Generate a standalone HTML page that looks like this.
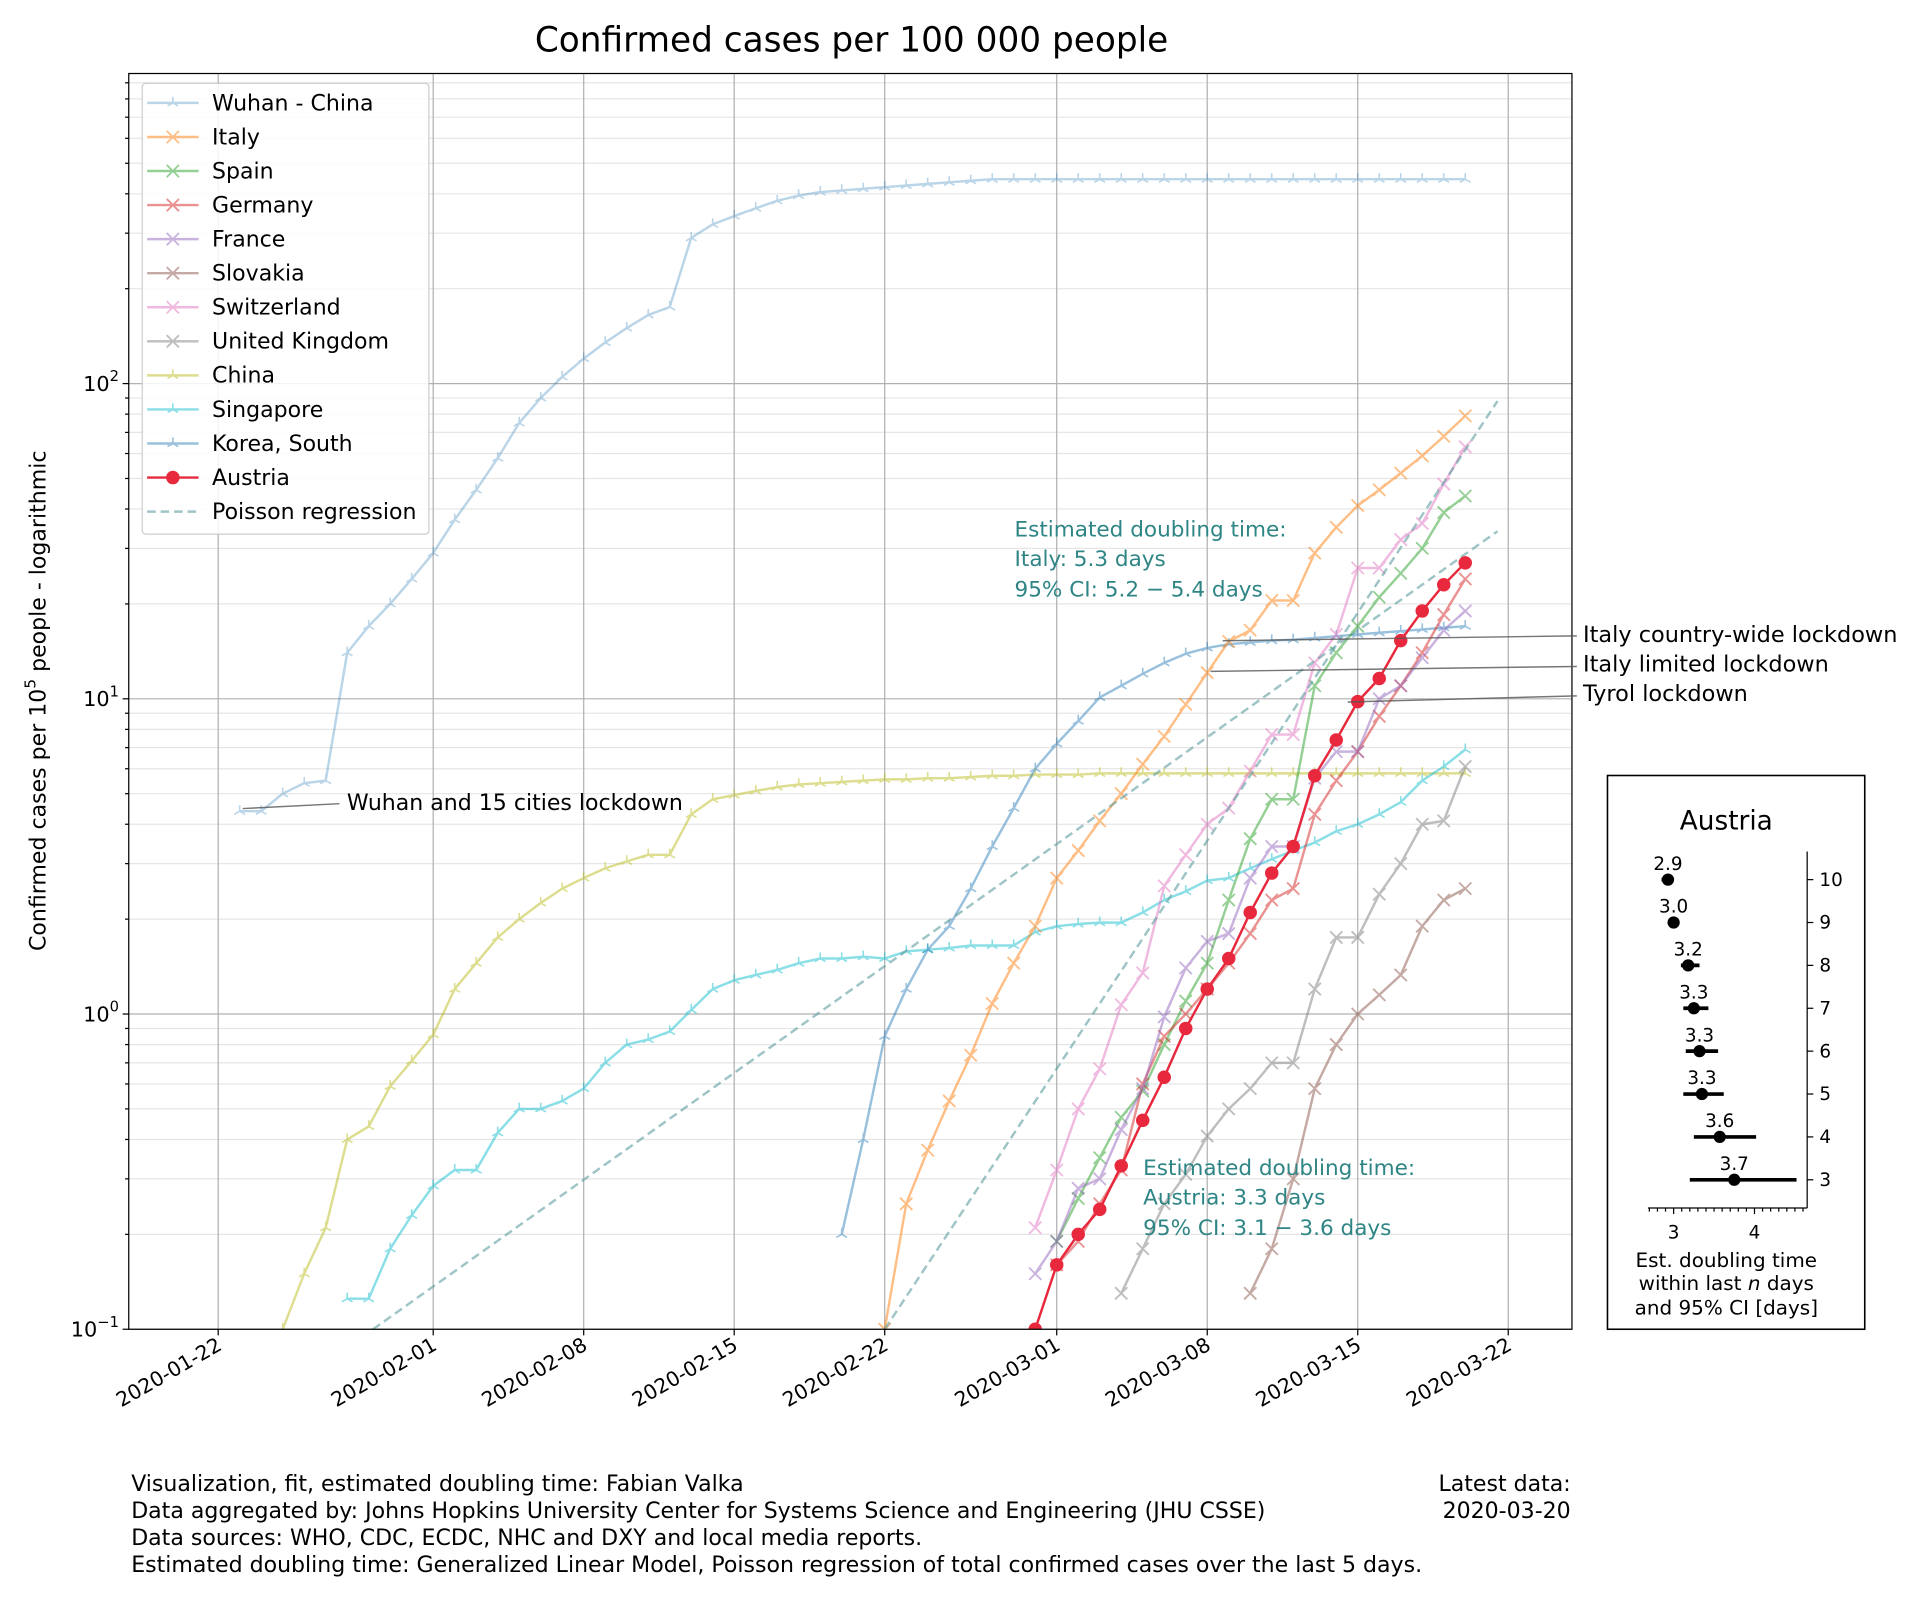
<!DOCTYPE html>
<html><head><meta charset="utf-8"><style>
html,body{margin:0;padding:0;background:#fff}
svg{display:block;font-family:"DejaVu Sans","Liberation Sans",sans-serif}
</style></head><body>
<svg id="chart" width="1920" height="1600" viewBox="0 0 1567 1306" xmlns="http://www.w3.org/2000/svg">
<rect x="0" y="0" width="1567" height="1306" fill="#fff"/>
<text x="695" y="42" font-size="28" text-anchor="middle" fill="#000">Confirmed cases per 100 000 people</text>
<g id="grid"></g>
<g id="series"></g>
<rect x="105" y="60" width="1178" height="1025" fill="none" stroke="#000" stroke-width="1"/>
<g id="axes"></g>
<text transform="translate(37,572) rotate(-90)" font-size="18" text-anchor="middle">Confirmed cases per 10<tspan font-size="12.5" dy="-8">5</tspan><tspan dy="8"> people - logarithmic</tspan></text>
<g id="annot"></g>
<g id="legend"></g>
<g id="inset"></g>
<g font-size="18" fill="#000">
<text x="107" y="1217">Visualization, fit, estimated doubling time: Fabian Valka</text>
<text x="107" y="1239">Data aggregated by: Johns Hopkins University Center for Systems Science and Engineering (JHU CSSE)</text>
<text x="107" y="1261">Data sources: WHO, CDC, ECDC, NHC and DXY and local media reports.</text>
<text x="107" y="1283">Estimated doubling time: Generalized Linear Model, Poisson regression of total confirmed cases over the last 5 days.</text>
<text x="1282" y="1217" text-anchor="end">Latest data:</text>
<text x="1282" y="1239" text-anchor="end">2020-03-20</text>
</g>
</svg>
<script>
// ---- data (day index 0 = 2020-01-22) ----
const tickDates = ["2020-01-22","2020-02-01","2020-02-08","2020-02-15","2020-02-22","2020-03-01","2020-03-08","2020-03-15","2020-03-22"];
const tickDays = [0,10,17,24,31,39,46,53,60];
const wuhanStart = 1;
const wuhanVals = [4.4,4.4,5.0,5.4,5.5,14,17,20,24,29,37,46,58,75,90,105,120,135,150,165,175,290,320,340,360,380,395,405,410,415,420,425,430,435,440,445,445,445,445,445,445,445,445,445,445,445,445,445,445,445,445,445,445,445,445,445,445,445];
const chinaStart = 3;
const chinaVals = [0.10,0.15,0.21,0.40,0.44,0.59,0.71,0.86,1.2,1.45,1.75,2.0,2.25,2.5,2.7,2.9,3.05,3.2,3.2,4.3,4.8,4.95,5.1,5.25,5.35,5.4,5.45,5.5,5.55,5.55,5.6,5.6,5.65,5.7,5.7,5.75,5.75,5.75,5.8,5.8,5.8,5.8,5.8,5.8,5.8,5.8,5.8,5.8,5.8,5.8,5.8,5.8,5.8,5.8,5.8,5.8];
const singaporeStart = 6;
const singaporeVals = [0.125,0.125,0.18,0.23,0.285,0.32,0.32,0.42,0.5,0.5,0.53,0.58,0.7,0.8,0.83,0.88,1.03,1.2,1.28,1.33,1.38,1.45,1.5,1.5,1.52,1.5,1.58,1.6,1.62,1.65,1.65,1.65,1.82,1.9,1.93,1.95,1.95,2.1,2.3,2.45,2.65,2.7,2.9,3.1,3.3,3.5,3.8,4.0,4.3,4.7,5.5,6.1,6.9];
const koreaStart = 29;
const koreaVals = [0.2,0.4,0.85,1.2,1.6,1.9,2.5,3.4,4.5,6.0,7.2,8.5,10.1,11.0,12.0,13.0,13.9,14.5,14.9,15.1,15.3,15.4,15.6,15.8,16.0,16.2,16.4,16.6,16.8,17.0];
const italyStart = 31;
const italyVals = [0.1,0.25,0.37,0.53,0.74,1.08,1.45,1.9,2.7,3.3,4.1,5.0,6.2,7.6,9.6,12.1,15.2,16.5,20.5,20.5,29,35,41,46,52,59,68,79];
const spainStart = 39;
const spainVals = [0.19,0.26,0.35,0.47,0.57,0.8,1.1,1.45,2.3,3.6,4.8,4.8,11,14,17,21,25,30,39,44];
const germanyStart = 39;
const germanyVals = [0.16,0.19,0.25,0.32,0.6,0.85,1.0,1.2,1.45,1.8,2.3,2.5,4.3,5.5,6.8,8.8,11,14,18.5,24];
const franceStart = 38;
const franceVals = [0.15,0.19,0.28,0.3,0.43,0.58,0.98,1.4,1.7,1.8,2.7,3.4,3.4,5.6,6.8,6.8,10,11,13.5,16.5,19];
const slovakiaStart = 48;
const slovakiaVals = [0.13,0.18,0.3,0.58,0.8,1.0,1.15,1.33,1.9,2.3,2.5];
const switzerlandStart = 38;
const switzerlandVals = [0.21,0.32,0.5,0.67,1.07,1.35,2.55,3.2,4.0,4.5,5.9,7.7,7.7,13,16,26,26,32,36,48,63];
const ukStart = 42;
const ukVals = [0.13,0.18,0.25,0.31,0.41,0.5,0.58,0.7,0.7,1.2,1.75,1.75,2.4,3.0,4.0,4.1,6.1];
const austriaStart = 38;
const austriaVals = [0.1,0.16,0.2,0.24,0.33,0.46,0.63,0.9,1.2,1.5,2.1,2.8,3.4,5.7,7.4,9.8,11.6,15.3,19,23,27];
// Poisson regression fits: [startDay, startValue, endDay, endValue]
const fitItaly = [31, 0.1, 59.5, 88];
const fitAustria = [7.2, 0.1, 59.5, 34];
// inset: doubling time estimates
const insetN = [10,9,8,7,6,5,4,3];
const insetEst = [2.93,3.0,3.18,3.25,3.32,3.35,3.57,3.75];
const insetLo = [2.85,2.93,3.09,3.12,3.15,3.12,3.25,3.2];
const insetHi = [3.0,3.07,3.32,3.43,3.55,3.62,4.02,4.52];
const insetLabels = ["2.9","3.0","3.2","3.3","3.3","3.3","3.6","3.7"];

const NS = "http://www.w3.org/2000/svg";
function mk(tag, attrs, parent){const e=document.createElementNS(NS,tag);for(const k in attrs)e.setAttribute(k,attrs[k]);if(parent)parent.appendChild(e);return e;}
const X0=178, PXD=17.55, YB=1085, DEC=257.3, L=105, R=1283, T=60;
function xs(d){return X0+d*PXD;}
function ys(v){return YB-(Math.log10(v)+1)*DEC;}

// grid
const grid=document.getElementById('grid');
for(let e=-1;e<3;e++){for(let m=2;m<10;m++){const y=ys(m*Math.pow(10,e));if(y<T)continue;
  const g=mk('line',{x1:L,x2:R,y1:y,y2:y,stroke:'#e6e6e6','stroke-width':1},grid);
  
  }}
for(let e=-1;e<=2;e++){const y=ys(Math.pow(10,e));
  const g=mk('line',{x1:L,x2:R,y1:y,y2:y,stroke:'#b0b0b0','stroke-width':1},grid);
  
  }
tickDays.forEach(d=>{const x=xs(d);
  const g=mk('line',{x1:x,x2:x,y1:T,y2:YB,stroke:'#b0b0b0','stroke-width':1},grid);
  
  });

// axes ticks
const axes=document.getElementById('axes');
tickDays.forEach((d,i)=>{const x=xs(d);
  mk('line',{x1:x,x2:x,y1:YB,y2:YB+5,stroke:'#000'},axes);
  const t=mk('text',{transform:`translate(${x+4},${YB+16}) rotate(-30)`,'text-anchor':'end','font-size':16.5},axes);
  t.textContent=tickDates[i];
  
  });
for(let e=-1;e<=2;e++){const y=ys(Math.pow(10,e));
  mk('line',{x1:L-5,x2:L,y1:y,y2:y,stroke:'#000'},axes);
  const t=mk('text',{x:L-8,y:y+6,'text-anchor':'end','font-size':17},axes);
  t.innerHTML=`10<tspan font-size="12" dy="-8">${e}</tspan>`.replace('>-1<','>\u22121<');
  
  
  for(let m=2;m<10&&e<3;m++){const yy=ys(m*Math.pow(10,e));if(yy<T)continue;mk('line',{x1:L-3,x2:L,y1:yy,y2:yy,stroke:'#000'},axes);}}

// series
const ser=document.getElementById('series');
const clip=mk('clipPath',{id:'pc'},ser);mk('rect',{x:L,y:T,width:R-L,height:YB-T},clip);
const sg=mk('g',{'clip-path':'url(#pc)'},ser);
function marker(g,x,y,type,color){
  if(type==='x'){const s=5;mk('path',{d:`M${x-s},${y-s}L${x+s},${y+s}M${x-s},${y+s}L${x+s},${y-s}`,stroke:color,'stroke-width':1.5,fill:'none'},g);}
  else if(type==='tri'){const s=5;mk('path',{d:`M${x},${y}L${x},${y-s}M${x},${y}L${x-s*0.87},${y+s*0.5}M${x},${y}L${x+s*0.87},${y+s*0.5}`,stroke:color,'stroke-width':1.3,fill:'none'},g);}
  else if(type==='o'){mk('circle',{cx:x,cy:y,r:5.5,fill:color},g);}
}
function drawSeries(name,start,vals,color,type,opacity,width){
  const g=mk('g',{opacity:opacity},sg);
  
  
  const pts=vals.map((v,i)=>[xs(start+i),ys(v)]);
  mk('polyline',{points:pts.map(p=>p.join(',')).join(' '),fill:'none',stroke:color,'stroke-width':width,'stroke-linejoin':'round'},g);
  pts.forEach(p=>marker(g,p[0],p[1],type,color));
}
drawSeries('wuhan',wuhanStart,wuhanVals,'#1f77b4','tri',0.3,2);
drawSeries('china',chinaStart,chinaVals,'#bcbd22','tri',0.5,2);
drawSeries('singapore',singaporeStart,singaporeVals,'#17becf','tri',0.5,2);
drawSeries('korea',koreaStart,koreaVals,'#1f77b4','tri',0.45,2);
drawSeries('italy',italyStart,italyVals,'#ff7f0e','x',0.5,2);
drawSeries('spain',spainStart,spainVals,'#2ca02c','x',0.5,2);
drawSeries('germany',germanyStart,germanyVals,'#d62728','x',0.5,2);
drawSeries('france',franceStart,franceVals,'#9467bd','x',0.5,2);
drawSeries('slovakia',slovakiaStart,slovakiaVals,'#8c564b','x',0.5,2);
drawSeries('switzerland',switzerlandStart,switzerlandVals,'#e377c2','x',0.5,2);
drawSeries('uk',ukStart,ukVals,'#7f7f7f','x',0.5,2);
[fitItaly,fitAustria].forEach((f,i)=>{
  const l=mk('line',{x1:xs(f[0]),y1:ys(f[1]),x2:xs(f[2]),y2:ys(f[3]),stroke:'#5f9ea0','stroke-width':2,'stroke-dasharray':'7,4',opacity:0.6},sg);
  
  });
drawSeries('austria',austriaStart,austriaVals,'#e8283c','o',1,2);

// annotations
const an=document.getElementById('annot');
function annLine(name,x1,y1,x2,y2){const l=mk('line',{x1,y1,x2,y2,stroke:'#555','stroke-width':1.2,opacity:0.8},an);
  
  }
annLine('wuhan-lockdown-pointer',198,660,277,656);
annLine('italy-countrywide-pointer',998,523,1287,519);
annLine('italy-limited-pointer',988,548,1287,544);
annLine('tyrol-pointer',1100,573,1287,568);
function annText(name,x,y,txt,color,size){const t=mk('text',{x,y,fill:color,'font-size':size},an);t.textContent=txt;
  
  }
annText('wuhan-lockdown-label',283,661,'Wuhan and 15 cities lockdown','#000',18);
annText('italy-countrywide-label',1292,524,'Italy country-wide lockdown','#000',18.3);
annText('italy-limited-label',1292,548,'Italy limited lockdown','#000',18.3);
annText('tyrol-label',1292,572,'Tyrol lockdown','#000',18.3);
const teal='#2f8585';
annText('italy-doubling-text',828,438,'Estimated doubling time:',teal,17.6);
annText('italy-doubling-text',828,462,'Italy: 5.3 days',teal,17.6);
annText('italy-doubling-text',828,487,'95% CI: 5.2 \u2212 5.4 days',teal,17.6);
annText('austria-doubling-text',933,959,'Estimated doubling time:',teal,17.6);
annText('austria-doubling-text',933,983,'Austria: 3.3 days',teal,17.6);
annText('austria-doubling-text',933,1008,'95% CI: 3.1 \u2212 3.6 days',teal,17.6);

// legend
const lgNames=["Wuhan - China","Italy","Spain","Germany","France","Slovakia","Switzerland","United Kingdom","China","Singapore","Korea, South","Austria","Poisson regression"];
const lgColors=['#1f77b4','#ff7f0e','#2ca02c','#d62728','#9467bd','#8c564b','#e377c2','#7f7f7f','#bcbd22','#17becf','#1f77b4','#e8283c','#5f9ea0'];
const lgTypes=['tri','x','x','x','x','x','x','x','tri','tri','tri','o','dash'];
const lgOp=[0.3,0.5,0.5,0.5,0.5,0.5,0.5,0.5,0.5,0.5,0.45,1,0.6];
const lg=document.getElementById('legend');
const lbox=mk('rect',{x:116,y:68,width:234,height:368,rx:3,fill:'#fff','fill-opacity':0.85,stroke:'#ccc'},lg);


lgNames.forEach((n,i)=>{const y=84+i*27.8;
  const g=mk('g',{},lg);
  
  
  const sub=mk('g',{opacity:lgOp[i]},g);
  if(lgTypes[i]==='dash')mk('line',{x1:120,x2:162,y1:y,y2:y,stroke:lgColors[i],'stroke-width':2,'stroke-dasharray':'7,4'},sub);
  else{mk('line',{x1:120,x2:162,y1:y,y2:y,stroke:lgColors[i],'stroke-width':2},sub);marker(sub,141,y,lgTypes[i],lgColors[i]);}
  const t=mk('text',{x:173,y:y+6,'font-size':18},g);t.textContent=n;});

// inset
const ins=document.getElementById('inset');
const ib=mk('rect',{x:1312,y:633,width:210,height:452,fill:'#fff',stroke:'#000','stroke-width':1.3},ins);


const it=mk('text',{x:1409,y:677,'text-anchor':'middle','font-size':21.5},ins);it.textContent='Austria';


function ix(v){return 1366+(v-3)*66;}
function iy(n){return 718+(10-n)*35;}
mk('line',{x1:1475,x2:1475,y1:695,y2:986,stroke:'#000','stroke-width':1},ins);
mk('line',{x1:1345,x2:1475,y1:986,y2:986,stroke:'#000','stroke-width':1},ins);
for(let v=2.7;v<=4.65;v+=0.1){const x=ix(v);if(x<1345||x>1475)continue;const major=Math.abs(v-3)<0.01||Math.abs(v-4)<0.01;
  mk('line',{x1:x,x2:x,y1:986,y2:986+(major?5:3),stroke:'#000'},ins);}
[3,4].forEach(v=>{const t=mk('text',{x:ix(v),y:1011,'text-anchor':'middle','font-size':15},ins);t.textContent=String(v);});
insetN.forEach((n,i)=>{const y=iy(n);
  mk('line',{x1:1475,x2:1480,y1:y,y2:y,stroke:'#000'},ins);
  const t=mk('text',{x:1485,y:y+5,'font-size':15},ins);t.textContent=String(n);
  const g=mk('g',{},ins);
  
  
  mk('line',{x1:ix(insetLo[i]),x2:ix(insetHi[i]),y1:y,y2:y,stroke:'#000','stroke-width':3},g);
  mk('circle',{cx:ix(insetEst[i]),cy:y,r:5,fill:'#000'},g);
  const l=mk('text',{x:ix(insetEst[i]),y:y-8,'text-anchor':'middle','font-size':15},g);l.textContent=insetLabels[i];});
const xl=mk('text',{x:1409,'font-size':16.3,'text-anchor':'middle'},ins);


xl.innerHTML='<tspan x="1409" y="1034">Est. doubling time</tspan><tspan x="1409" y="1053">within last <tspan font-style="italic">n</tspan> days</tspan><tspan x="1409" y="1073">and 95% CI [days]</tspan>';
</script>
</body></html>
